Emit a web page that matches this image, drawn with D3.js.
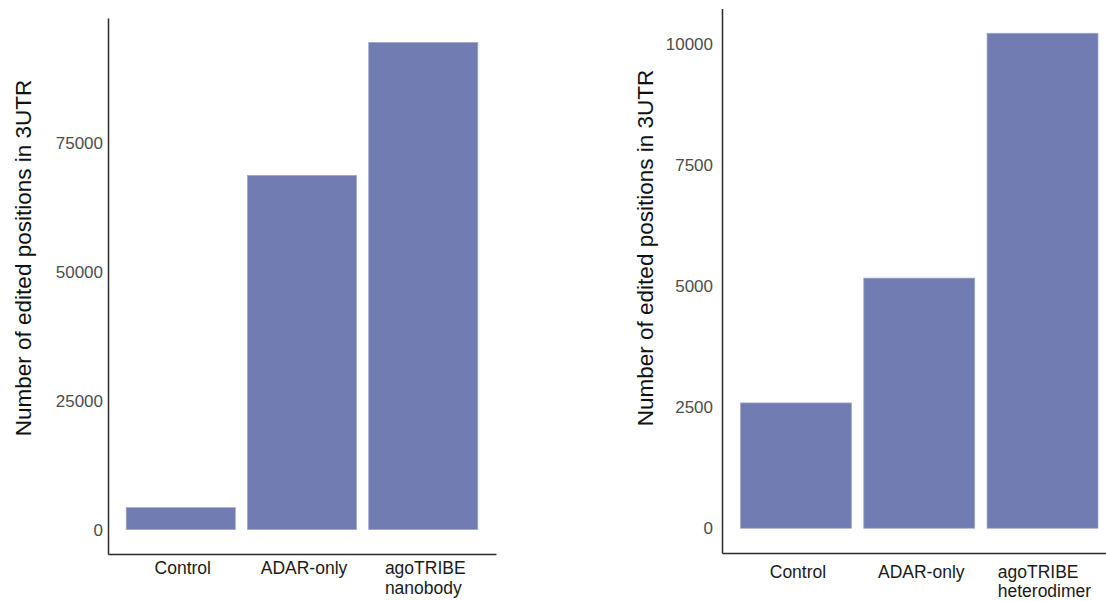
<!DOCTYPE html>
<html>
<head>
<meta charset="utf-8">
<script src="https://cdn.jsdelivr.net/npm/d3@7/dist/d3.min.js"></script>
<style>
  html, body { margin: 0; padding: 0; background: #ffffff; }
  svg { display: block; font-family: "Liberation Sans", Arial, Helvetica, sans-serif; }
</style>
</head>
<body>
<svg id="chart" width="1106" height="601"></svg>
<script>
// Edited positions in 3'UTR, nanobody experiment
const categoriesNano = ["Control", "ADAR-only", "agoTRIBE\nnanobody"];
const valuesNano = [4270, 68750, 94550];
const ticksNano = [0, 25000, 50000, 75000];

// Edited positions in 3'UTR, heterodimer experiment
const categoriesHetero = ["Control", "ADAR-only", "agoTRIBE\nheterodimer"];
const valuesHetero = [2590, 5170, 10230];
const ticksHetero = [0, 2500, 5000, 7500, 10000];

const yTitle = "Number of edited positions in 3UTR";
const barColor = "#717db2";

const svg = d3.select("#chart");

const panels = [
  { cats: categoriesNano, vals: valuesNano, ticks: ticksNano,
    left: 108, right: 496, top: 18, bottom: 554,
    tickGap: 5, titleX: 31, titleY: 258, labelY: 574, lineGap: 19.5 },
  { cats: categoriesHetero, vals: valuesHetero, ticks: ticksHetero,
    left: 722, right: 1116.5, top: 8.5, bottom: 553,
    tickGap: 9, titleX: 653, titleY: 248, labelY: 578, lineGap: 18.5 }
];

panels.forEach(p => {
  const maxV = d3.max(p.vals);
  // ggplot-style 5% expansion on both ends of the continuous axis
  const y = d3.scaleLinear()
    .domain([-0.05 * maxV, 1.05 * maxV])
    .range([p.bottom, p.top]);
  // discrete axis: 0.6 of a step on each side, bars 90% of a step
  const x = d3.scaleBand()
    .domain(p.cats)
    .range([p.left, p.right])
    .paddingInner(0.1)
    .paddingOuter(0.15);

  const g = svg.append("g");

  // bars
  g.selectAll("rect.bar")
    .data(p.cats.map((c, i) => ({ c, v: p.vals[i] })))
    .join("rect")
    .attr("class", "bar")
    .attr("x", d => x(d.c))
    .attr("width", x.bandwidth())
    .attr("y", d => y(d.v))
    .attr("height", d => y(0) - y(d.v))
    .attr("fill", barColor)
    .attr("stroke", "#a3a9cb")
    .attr("stroke-width", 0.7);

  // y axis
  const yAxis = d3.axisLeft(y)
    .tickValues(p.ticks)
    .tickSizeInner(0)
    .tickSizeOuter(0)
    .tickPadding(p.tickGap)
    .tickFormat(d3.format("d"));
  const ya = g.append("g")
    .attr("transform", `translate(${p.left},0)`)
    .call(yAxis);
  ya.select(".domain").attr("stroke", "#2b2b2b").attr("stroke-width", 1.5);
  ya.selectAll(".tick text")
    .attr("fill", "#4d4d4d")
    .attr("font-size", 17)
    .attr("font-family", "Liberation Sans, Arial, sans-serif");

  // x axis line
  const xAxis = d3.axisBottom(x).tickSize(0).tickFormat("");
  const xa = g.append("g")
    .attr("transform", `translate(0,${p.bottom})`)
    .call(xAxis);
  xa.select(".domain").attr("stroke", "#2b2b2b").attr("stroke-width", 1.5);
  xa.selectAll(".tick").remove();

  // category labels (multi-line, left-aligned block centred on the band)
  p.cats.forEach(c => {
    const lines = c.split("\n");
    const cx = x(c) + x.bandwidth() / 2 + 2;
    const t = g.append("text")
      .attr("y", p.labelY)
      .attr("fill", "#1a1a1a")
      .attr("font-size", 17.5);
    lines.forEach((ln, i) => {
      t.append("tspan")
        .attr("x", 0)
        .attr("dy", i === 0 ? 0 : p.lineGap)
        .text(ln);
    });
    if (lines.length === 1) {
      t.attr("text-anchor", "middle").attr("x", cx);
      t.selectAll("tspan").attr("x", cx);
    } else {
      const w = t.node().getBBox().width;
      t.selectAll("tspan").attr("x", cx - w / 2);
    }
  });

  // y axis title
  g.append("text")
    .attr("transform", `translate(${p.titleX},${p.titleY}) rotate(-90)`)
    .attr("text-anchor", "middle")
    .attr("fill", "#111")
    .attr("font-size", 22.5)
    .text(yTitle);
});
</script>
</body>
</html>
